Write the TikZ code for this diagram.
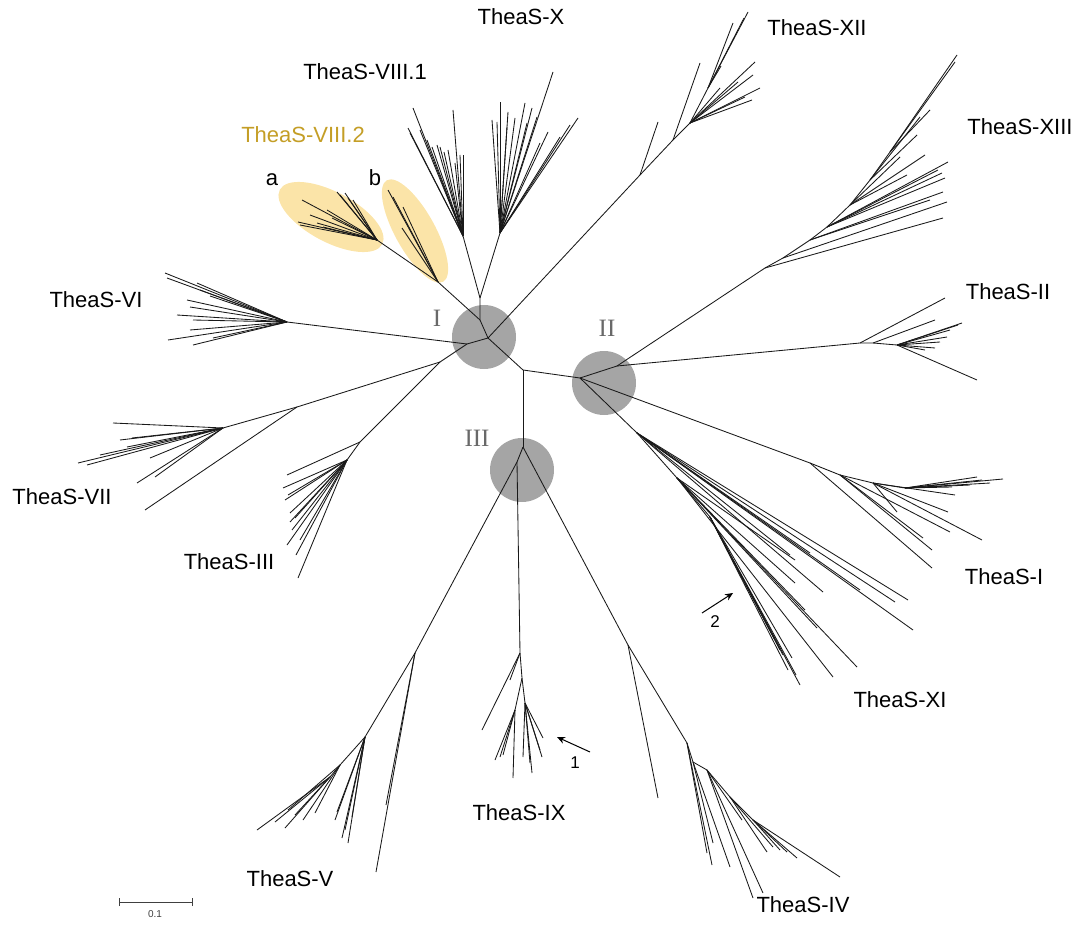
\documentclass[tikz,border=0pt]{standalone}
\usepackage{fontspec}
\usetikzlibrary{arrows.meta}
\setmainfont{Liberation Sans}
\newfontfamily\romfont{Liberation Serif}
\definecolor{circgray}{RGB}{165,165,165}
\definecolor{goldtxt}{RGB}{196,158,38}
\definecolor{goldfill}{RGB}{251,228,168}
\definecolor{romgray}{RGB}{105,105,105}
\newcommand\fanout[2]{\foreach \t in {#2} \draw[br] (#1) -- \t;}
\begin{document}
\begin{tikzpicture}[x=1pt,y=-1pt,
  br/.style={draw=black!90,line width=0.85pt},
  clade/.style={font=\fontsize{22}{26}\selectfont,inner sep=0pt},
  rom/.style={font=\romfont\fontsize{25}{29}\selectfont,text=romgray,inner sep=0pt},
  hub/.style={fill=circgray},
  num/.style={font=\fontsize{17}{20}\selectfont,inner sep=0pt},
  arr/.style={draw=black,line width=1pt,-{Stealth[length=8pt,width=7pt]}}]
\useasboundingbox (0,0) rectangle (1084,933);
% highlight ellipses
\fill[goldfill,rotate around={-28:(331,217)}] (331,217) ellipse [x radius=58pt,y radius=25pt];
\fill[goldfill,rotate around={-61:(415,231)}] (415,231) ellipse [x radius=58pt,y radius=20pt];
% hubs
\fill[hub] (484,337) circle [radius=32pt];
\fill[hub] (604,383) circle [radius=32pt];
\fill[hub] (522,470) circle [radius=32pt];
% backbone
\coordinate (C0) at (523,370);
\coordinate (nI) at (488,338);
\coordinate (nIL) at (467,344);
\coordinate (nIL2) at (440,362);
\coordinate (nA) at (480,320);
\coordinate (nXV) at (480,298);
\coordinate (nVIIIa) at (463,236);
\coordinate (nX) at (500,233);
\coordinate (nB) at (438,282);
\coordinate (nAa) at (377,240);
\coordinate (nII) at (580,378);
\coordinate (nII2) at (617,366);
\coordinate (nIII) at (523,447);
\coordinate (nIX0) at (517,462);
\draw[br] (nI) -- (C0) -- (nII);
\draw[br] (C0) -- (nIII);
\draw[br] (nI) -- (nIL);
\draw[br] (nI) -- (nA) -- (nXV);
% VIII.2
\draw[br] (nA) -- (nB) -- (nAa);
\fanout{nB}{(388,190),(393,197),(403,207),(402,228)}
\fanout{nAa}{(302,200),(298,222),(300,225),(337,192),(340,195),(345,193),(348,198),(327,210),(317,223),(323,227),(353,200),(310,215),(332,218)}
% VIII.1 and X
\draw[br] (nXV) -- (nVIIIa);
\draw[br] (nXV) -- (nX);
\fanout{nVIIIa}{(413,108),(408,128),(410,133),(432,147),(437,145),(440,147),(448,150),(453,110),(460,155),(463,155),(455,163),(420,130),(427,140),(444,152)}
\fanout{nX}{(500,102),(492,120),(497,122),(507,127),(508,112),(525,103),(532,108),(537,117),(553,72),(578,118),(560,137),(540,143),(527,123),(515,118),(570,125),(548,132)}
% XII
\coordinate (xa) at (640,175);
\coordinate (xb) at (673,140);
\coordinate (xc) at (690,123);
\coordinate (xd) at (708,88);
\draw[br] (nI) -- (xa) -- (xb) -- (xc) -- (xd);
\fanout{xa}{(658,122)}
\fanout{xb}{(700,63)}
\fanout{xc}{(755,62),(753,75),(760,88),(752,100),(745,97),(720,88),(738,82)}
\fanout{xd}{(748,12),(733,23),(744,18),(721,66)}
% XIII
\coordinate (sa) at (765,268);
\coordinate (sb) at (783,258);
\coordinate (sc) at (810,240);
\coordinate (sd) at (827,227);
\coordinate (se) at (850,205);
\coordinate (sf) at (870,180);
\coordinate (sg) at (890,152);
\draw[br] (nII) -- (nII2) -- (sa) -- (sb) -- (sc) -- (sd) -- (se) -- (sf) -- (sg) -- (957,55);
\fanout{sa}{(943,218)}
\fanout{sb}{(947,202)}
\fanout{sc}{(943,192),(930,200)}
\fanout{sd}{(945,178),(942,173),(948,162),(938,170)}
\fanout{se}{(907,175),(925,155),(900,157)}
\fanout{sf}{(917,135),(920,117)}
\fanout{sg}{(955,62),(930,110)}
% TheaS-II
\coordinate (ta) at (860,343);
\coordinate (tb) at (873,343);
\coordinate (tc) at (897,345);
\draw[br] (nII2) -- (ta) -- (tb) -- (tc);
\fanout{ta}{(945,298)}
\fanout{tb}{(935,320)}
\fanout{tc}{(962,323),(958,325),(947,337),(935,348),(925,350),(950,330),(977,380),(940,342)}
% TheaS-I
\coordinate (ia) at (810,463);
\coordinate (ib) at (840,475);
\coordinate (ic) at (873,483);
\coordinate (id) at (905,488);
\draw[br] (nII) -- (ia) -- (ib) -- (ic) -- (id);
\fanout{ia}{(932,568)}
\fanout{ib}{(923,538),(932,550),(950,532)}
\fanout{ic}{(982,540),(948,512),(897,512),(955,495)}
\fanout{id}{(1003,479),(982,480),(977,477),(952,487),(990,483),(970,485)}
% XI
\coordinate (ka) at (637,433);
\coordinate (kb) at (677,478);
\coordinate (kc) at (710,517);
\draw[br] (nII) -- (ka) -- (kb) -- (kc);
\fanout{ka}{(908,600),(895,602),(913,630),(810,553),(823,592),(790,555),(860,590)}
\fanout{kb}{(795,583),(795,560),(857,667),(833,677),(817,628),(805,610)}
\fanout{kc}{(800,685),(792,658),(783,655),(788,670),(780,650),(796,675),(775,640)}
% IV
\coordinate (va) at (628,645);
\coordinate (vb) at (687,743);
\coordinate (vc) at (693,762);
\coordinate (vd) at (707,770);
\coordinate (ve) at (730,797);
\coordinate (vf) at (753,820);
\draw[br] (nIII) -- (va) -- (vb) -- (vc) -- (vd) -- (ve) -- (vf) -- (840,877);
\fanout{va}{(658,798)}
\fanout{vb}{(712,865),(707,853)}
\fanout{vc}{(713,843),(730,867)}
\fanout{vd}{(753,898),(763,893),(742,820)}
\fanout{ve}{(767,852),(773,847)}
\fanout{vf}{(787,852),(797,858),(780,850)}
% IX
\coordinate (ga) at (520,653);
\coordinate (gb) at (522,678);
\coordinate (gc) at (515,710);
\coordinate (gd) at (525,703);
\draw[br] (nIII) -- (nIX0) -- (ga) -- (gb) -- (gc);
\draw[br] (gb) -- (gd);
\fanout{ga}{(482,730),(510,680)}
\fanout{gc}{(495,760),(500,757),(503,755),(513,778)}
\fanout{gd}{(523,757),(532,773),(530,763),(542,757),(543,738),(540,750)}
% V
\coordinate (fa) at (415,653);
\coordinate (fb) at (365,737);
\coordinate (fc) at (340,765);
\coordinate (fd) at (330,777);
\draw[br] (nIX0) -- (fa) -- (fb) -- (fc) -- (fd);
\fanout{fa}{(376,872),(386,805)}
\fanout{fb}{(348,843),(342,838),(335,820),(337,812),(352,817),(345,830)}
\fanout{fc}{(315,813),(303,820),(288,810)}
\fanout{fd}{(257,830),(285,828),(295,815),(275,822)}
% VI
\coordinate (ha) at (287,322);
\draw[br] (nIL) -- (ha);
\fanout{ha}{(165,273),(167,278),(197,283),(187,300),(190,307),(177,315),(193,320),(190,330),(168,340),(193,345),(213,338),(200,290),(210,296)}
% VII
\coordinate (ma) at (297,407);
\coordinate (mb) at (223,428);
\draw[br] (nIL) -- (nIL2) -- (ma) -- (mb);
\fanout{ma}{(145,510)}
\fanout{mb}{(113,423),(78,463),(87,465),(137,483),(155,477),(132,438),(127,447),(150,458),(120,440),(100,455)}
% III
\coordinate (pa) at (360,442);
\coordinate (pb) at (347,460);
\draw[br] (nIL2) -- (pa) -- (pb);
\fanout{pa}{(287,475)}
\fanout{pb}{(283,488),(290,513),(295,518),(287,545),(298,578),(285,500),(292,530),(300,540),(290,522),(288,495),(296,555)}
% labels
\node[clade] (lXII) at (817,28) {TheaS-XII};
\node[clade] (lXIII) at (1020,127) {TheaS-XIII};
\node[clade] (lII) at (1008,292) {TheaS-II};
\node[clade] (lI) at (1004,577) {TheaS-I};
\node[clade] (lXI) at (900,700) {TheaS-XI};
\node[clade] (lIV) at (803,905) {TheaS-IV};
\node[clade] (lIX) at (519,813) {TheaS-IX};
\node[clade] (lV) at (290,879) {TheaS-V};
\node[clade] (lIII) at (229,562) {TheaS-III};
\node[clade] (lVII) at (62,497) {TheaS-VII};
\node[clade] (lVI) at (96,300) {TheaS-VI};
\node[clade] (lVIIIa) at (365,72) {TheaS-VIII.1};
\node[clade] (lX) at (521,17) {TheaS-X};
\node[clade,text=goldtxt] (lVIIIb) at (303,135) {TheaS-VIII.2};
\node[clade] (la) at (272,180) {a};
\node[clade] (lb) at (375,178) {b};
\node[rom] (rI) at (437,318) {I};
\node[rom] (rII) at (607,328) {II};
\node[rom] (rIII) at (477,438) {III};
% arrows
\coordinate (a1s) at (590,752);
\coordinate (a1e) at (557,737);
\draw[arr] (a1s) -- (a1e);
\node[num] (n1) at (575,763) {1};
\coordinate (a2s) at (702,613);
\coordinate (a2e) at (733,593);
\draw[arr] (a2s) -- (a2e);
\node[num] (n2) at (715,622) {2};
% scale bar
\coordinate (sbl) at (119,902);
\coordinate (sbr) at (192,902);
\draw[draw=black!75,line width=1pt] (sbl) -- (sbr);
\draw[draw=black!75,line width=0.8pt] ([yshift=-4pt]sbl) -- ([yshift=4pt]sbl) ([yshift=-4pt]sbr) -- ([yshift=4pt]sbr);
\node[font=\fontsize{10}{12}\selectfont,inner sep=0pt,text=black!75] (sbt) at (155,914) {0.1};
\end{tikzpicture}
\end{document}
